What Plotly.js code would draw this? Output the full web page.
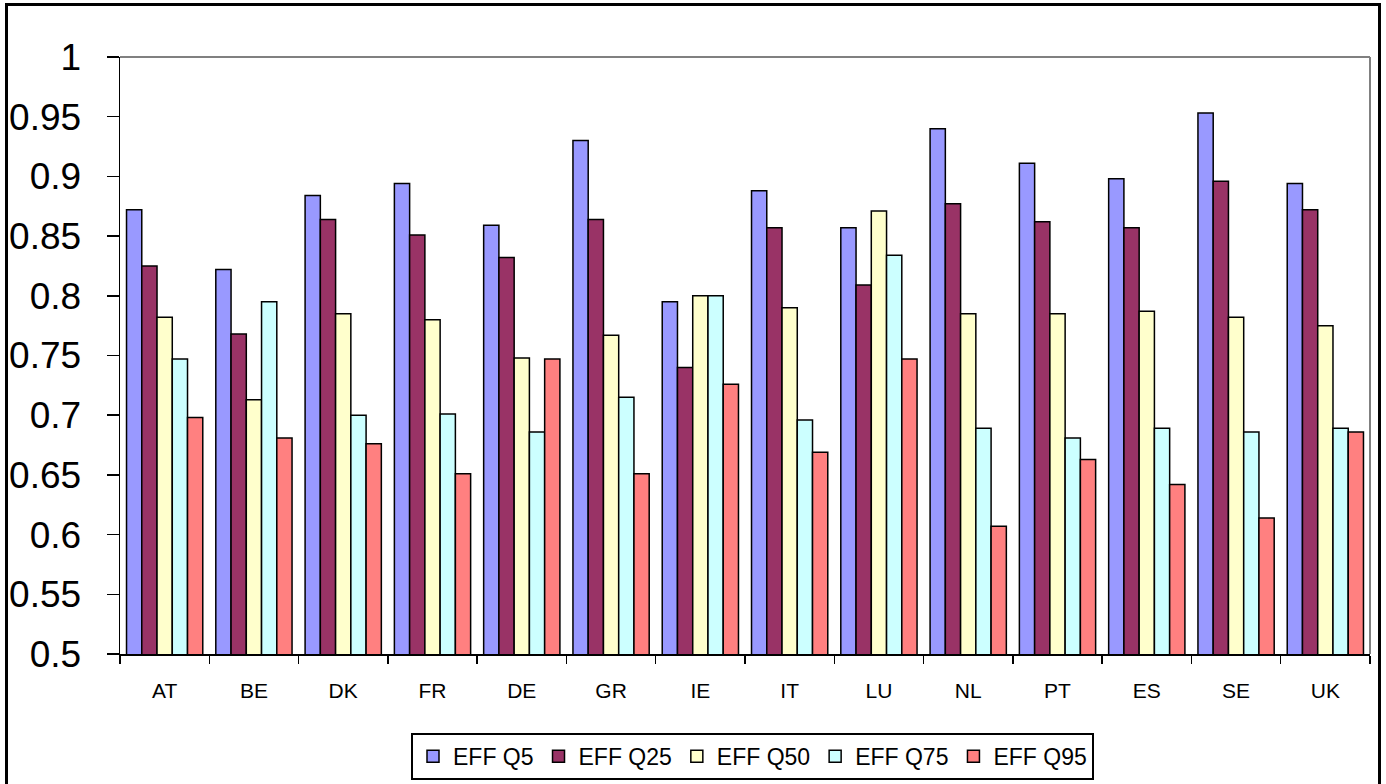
<!DOCTYPE html>
<html>
<head>
<meta charset="utf-8">
<script src="https://cdn.plot.ly/plotly-3.0.1.min.js"></script>
<style>
  html, body { margin: 0; padding: 0; background: #fff; }
  #wrap { position: relative; width: 1386px; height: 784px; overflow: hidden; }
  #chart { width: 1386px; height: 784px; }
  #frame { position: absolute; left: 5px; top: 3px; width: 1370px; height: 800px;
           border: 3px solid #000; pointer-events: none; }
</style>
</head>
<body>
<div id="wrap">
  <div id="chart"></div>
  <div id="frame"></div>
</div>
<script>
const countries = ["AT","BE","DK","FR","DE","GR","IE","IT","LU","NL","PT","ES","SE","UK"];
const seriesNames = ["EFF Q5","EFF Q25","EFF Q50","EFF Q75","EFF Q95"];
const effQ5  = [0.872,0.822,0.884,0.894,0.859,0.930,0.795,0.888,0.857,0.940,0.911,0.898,0.953,0.894];
const effQ25 = [0.825,0.768,0.864,0.851,0.832,0.864,0.740,0.857,0.809,0.877,0.862,0.857,0.896,0.872];
const effQ50 = [0.782,0.713,0.785,0.780,0.748,0.767,0.800,0.790,0.871,0.785,0.785,0.787,0.782,0.775];
const effQ75 = [0.747,0.795,0.700,0.701,0.686,0.715,0.800,0.696,0.834,0.689,0.681,0.689,0.686,0.689];
const effQ95 = [0.698,0.681,0.676,0.651,0.747,0.651,0.726,0.669,0.747,0.607,0.663,0.642,0.614,0.686];
const yTickVals = [0.5,0.55,0.6,0.65,0.7,0.75,0.8,0.85,0.9,0.95,1];
const yTickText = ["0.5","0.55","0.6","0.65","0.7","0.75","0.8","0.85","0.9","0.95","1"];

const colors = ["#9999FF","#993366","#FFFFCC","#CCFFFF","#FF8080"];
const allSeries = [effQ5, effQ25, effQ50, effQ75, effQ95];

const traces = allSeries.map((vals, i) => ({
  type: "bar",
  name: seriesNames[i],
  x: countries,
  y: vals,
  marker: { color: colors[i], line: { color: "#000", width: 1.5 } }
}));

const font = "Liberation Sans, Arial, sans-serif";
const layout = {
  width: 1386, height: 784,
  margin: { l: 120, r: 16, t: 57, b: 130, autoexpand: false },
  paper_bgcolor: "#fff", plot_bgcolor: "#fff",
  barmode: "group", bargap: 0.146, bargroupgap: 0,
  showlegend: true,
  legend: {
    orientation: "h", x: 0.506, xanchor: "center", y: -0.132, yanchor: "top",
    bordercolor: "#000", borderwidth: 2, bgcolor: "#fff",
    font: { family: font, size: 23, color: "#000" },
    traceorder: "normal"
  },
  xaxis: {
    type: "category",
    tickson: "boundaries",
    automargin: false,
    ticks: "outside", ticklen: 8, tickwidth: 1.5, tickcolor: "#000",
    showline: true, linecolor: "#000", linewidth: 2,
    showgrid: false, zeroline: false,
    tickfont: { family: font, size: 21, color: "#000" },
    ticklabelstandoff: 17
  },
  yaxis: {
    range: [0.5, 1], tickvals: yTickVals, ticktext: yTickText,
    automargin: false,
    ticks: "outside", ticklen: 12, tickwidth: 1.5, tickcolor: "#000",
    showline: true, linecolor: "#000", linewidth: 1.5,
    showgrid: false, zeroline: false,
    tickfont: { family: font, size: 37, color: "#000" },
    ticklabelstandoff: 18
  },
  shapes: [
    { type: "line", xref: "paper", yref: "paper", x0: 0, x1: 1, y0: 1, y1: 1,
      line: { color: "#808080", width: 2 } },
    { type: "line", xref: "paper", yref: "paper", x0: 1, x1: 1, y0: 0, y1: 1,
      line: { color: "#808080", width: 2 } }
  ]
};

Plotly.newPlot("chart", traces, layout, { displayModeBar: false, staticPlot: true });
</script>
</body>
</html>
